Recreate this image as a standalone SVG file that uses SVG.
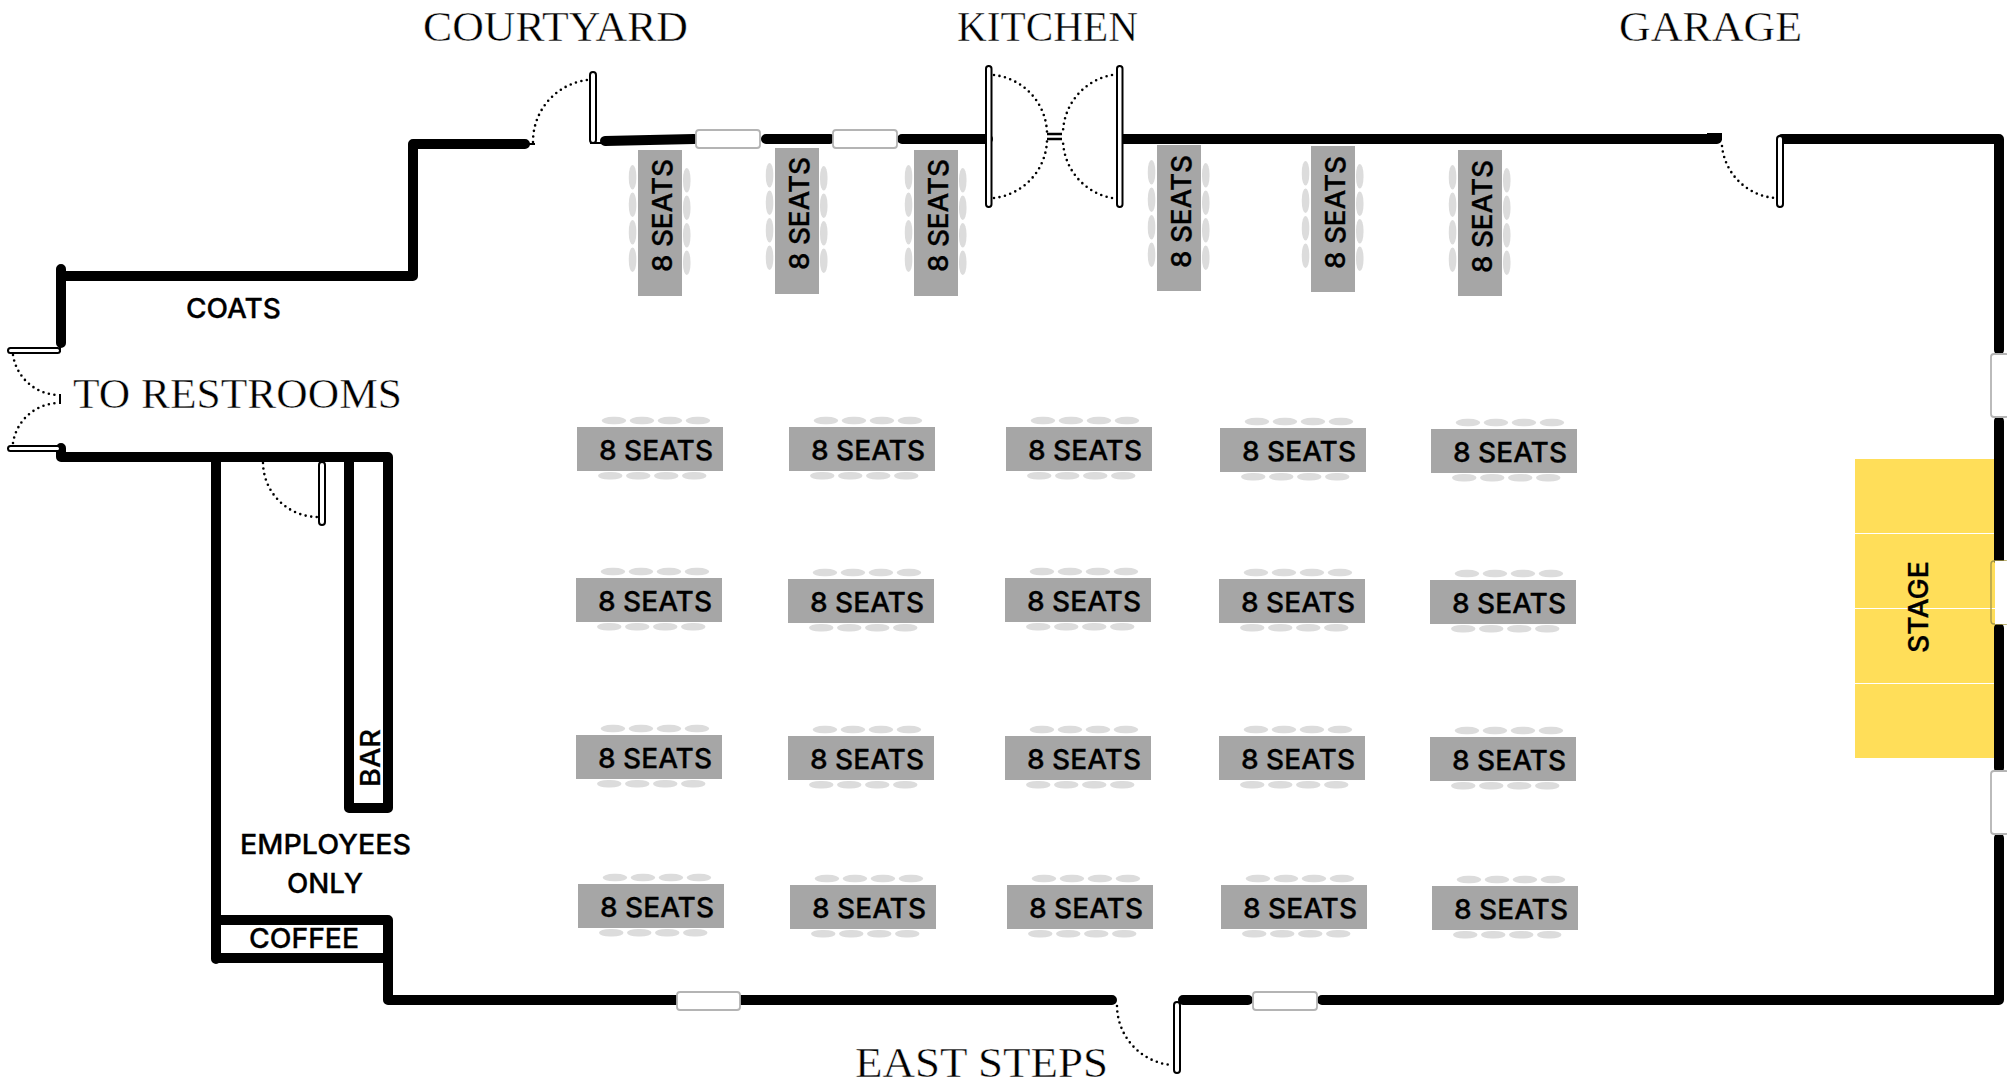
<svg xmlns="http://www.w3.org/2000/svg" width="2007" height="1087" viewBox="0 0 2007 1087">
<style>
.w{fill:none;stroke:#000;stroke-width:10;stroke-linecap:round;stroke-linejoin:round}
.win{fill:#fff;stroke:#b4b4b4;stroke-width:1.8}
.leaf{fill:#fff;stroke:#000;stroke-width:2}
.arc{fill:none;stroke:#000;stroke-width:2.6;stroke-linecap:round;stroke-dasharray:0 5.6}
.thin{fill:none;stroke:#000;stroke-width:2}
.t{fill:#a6a6a6}
.c{fill:#dcdcdc}
.s{font-family:Inter,Lato,"Liberation Sans",sans-serif;font-size:27.5px;font-weight:500;fill:#000;stroke:#000;stroke-width:.3}
.r{font-family:"Liberation Serif",serif;font-size:42px;fill:#000;stroke:#fff;stroke-width:.45}
</style>
<defs>
<g id="hc"><rect class="c" x="24.700" y="-10.200" width="24.500" height="7.500" rx="11" ry="3.700"/><rect class="c" x="52.700" y="-10.200" width="24.500" height="7.500" rx="11" ry="3.700"/><rect class="c" x="80.700" y="-10.200" width="24.500" height="7.500" rx="11" ry="3.700"/><rect class="c" x="108.700" y="-10.200" width="24.500" height="7.500" rx="11" ry="3.700"/><rect class="c" x="21" y="45" width="24.500" height="7.500" rx="11" ry="3.700"/><rect class="c" x="49" y="45" width="24.500" height="7.500" rx="11" ry="3.700"/><rect class="c" x="77" y="45" width="24.500" height="7.500" rx="11" ry="3.700"/><rect class="c" x="105" y="45" width="24.500" height="7.500" rx="11" ry="3.700"/></g>
<g id="vc"><rect class="c" x="-9.200" y="15" width="7.500" height="24.500" rx="3.700" ry="11"/><rect class="c" x="-9.200" y="42.500" width="7.500" height="24.500" rx="3.700" ry="11"/><rect class="c" x="-9.200" y="70" width="7.500" height="24.500" rx="3.700" ry="11"/><rect class="c" x="-9.200" y="97.500" width="7.500" height="24.500" rx="3.700" ry="11"/><rect class="c" x="45" y="18" width="7.500" height="24.500" rx="3.700" ry="11"/><rect class="c" x="45" y="45.500" width="7.500" height="24.500" rx="3.700" ry="11"/><rect class="c" x="45" y="73" width="7.500" height="24.500" rx="3.700" ry="11"/><rect class="c" x="45" y="100.500" width="7.500" height="24.500" rx="3.700" ry="11"/></g>
</defs>
<rect width="2007" height="1087" fill="#fff"/>

<g id="stage">
<rect x="1855" y="459" width="140" height="299" fill="#ffde59"/>
<path d="M1855 533.500H1995M1855 608.500H1995M1855 683.500H1995" stroke="#fff" stroke-width="1.200" fill="none"/>
<text class="s" transform="translate(1928 653) rotate(-90)" textLength="92" lengthAdjust="spacingAndGlyphs">STAGE</text>
</g>

<g id="connectors">
<g id="walls">
<path class="w" d="M61 269V343M61 276H413V144H525"/>
<path class="w" d="M605 141L694 139M766 139H830M902 139H988M1122 139H1717"/>
<path class="w" d="M1782 139H1999V350M1999 421V560M1999 628V768M1999 838V1000H1322M1248 1000H1183M1112 1000H673"/>
<path class="w" d="M61 448V457H388V808H349V457M216 457V959M216 920H388M216 958H388M388 920V1000H673"/>
<rect x="1707" y="133" width="15" height="7" fill="#000"/>
</g>
<g id="windows">
<rect class="win" x="696" y="130" width="64" height="18" rx="3"/>
<rect class="win" x="833" y="130" width="64" height="18" rx="3"/>
<rect class="win" x="677" y="992" width="63" height="18" rx="3"/>
<rect class="win" x="1253" y="992" width="64" height="18" rx="3"/>
<rect class="win" x="1991" y="354" width="18" height="63" rx="3"/>
<rect x="1991" y="561" width="18" height="63" rx="3" fill="none" stroke="#a89a4a" stroke-width="1.400"/>
<rect x="1995" y="561" width="14" height="63" fill="#fff"/>
<rect class="win" x="1991" y="771" width="18" height="63" rx="3"/>
</g>
<g id="doors">
<rect class="leaf" x="590" y="72" width="6" height="71" rx="3"/>
<rect class="leaf" x="986" y="66" width="5.500" height="141" rx="2.700"/>
<rect class="leaf" x="1117" y="66" width="5.500" height="141" rx="2.700"/>
<rect class="leaf" x="1777" y="136" width="6" height="71" rx="3"/>
<rect class="leaf" x="1174" y="1002" width="6" height="71" rx="3"/>
<rect class="leaf" x="319" y="462" width="6" height="63" rx="3"/>
<rect class="leaf" x="8" y="348" width="52" height="5" rx="2.500"/>
<rect class="leaf" x="8" y="446" width="52" height="5" rx="2.500"/>
<path class="thin" d="M525 144H535M590 143H606M60 344V352M60 394V404"/>
<path d="M1047 134H1062M1047 139H1062" fill="none" stroke="#000" stroke-width="2.600"/>
<path class="arc" d="M533 142A62 62 0 0 1 587 80"/>
<path class="arc" d="M994 75A60 60 0 0 1 1047 132"/>
<path class="arc" d="M994 198A60 60 0 0 0 1047 141"/>
<path class="arc" d="M1112 75A60 60 0 0 0 1063 132"/>
<path class="arc" d="M1112 198A60 60 0 0 1 1063 141"/>
<path class="arc" d="M1722 146A58 58 0 0 0 1775 198"/>
<path class="arc" d="M1117 1006A60 60 0 0 0 1171 1065"/>
<path class="arc" d="M263 463A55 55 0 0 0 317 517"/>
<path class="arc" d="M13 355A47 47 0 0 0 58 395"/>
<path class="arc" d="M13 443A47 47 0 0 1 58 403"/>
</g>
</g>

<g id="labels">
<text class="r" x="423" y="41" textLength="265" lengthAdjust="spacingAndGlyphs">COURTYARD</text>
<text class="r" x="957" y="41" textLength="181" lengthAdjust="spacingAndGlyphs">KITCHEN</text>
<text class="r" x="1619" y="41" textLength="183" lengthAdjust="spacingAndGlyphs">GARAGE</text>
<text class="r" x="73" y="408" textLength="329" lengthAdjust="spacingAndGlyphs">TO RESTROOMS</text>
<text class="r" x="855" y="1077" textLength="253" lengthAdjust="spacingAndGlyphs">EAST STEPS</text>
<text class="s" x="186" y="318" textLength="95" lengthAdjust="spacingAndGlyphs">COATS</text>
<text class="s" x="240" y="854" textLength="171" lengthAdjust="spacingAndGlyphs">EMPLOYEES</text>
<text class="s" x="287" y="893" textLength="76" lengthAdjust="spacingAndGlyphs">ONLY</text>
<text class="s" x="249" y="948" textLength="110" lengthAdjust="spacingAndGlyphs">COFFEE</text>
<text class="s" transform="translate(380 787) rotate(-90)" textLength="58" lengthAdjust="spacingAndGlyphs">BAR</text>
</g>

<g id="tv1" transform="translate(638 150)"><rect class="t" width="44" height="146"/><use href="#vc"/><text class="s" transform="translate(34 122) rotate(-90)" textLength="113" lengthAdjust="spacingAndGlyphs">8 SEATS</text></g>
<g id="tv2" transform="translate(775 148)"><rect class="t" width="44" height="146"/><use href="#vc"/><text class="s" transform="translate(34 122) rotate(-90)" textLength="113" lengthAdjust="spacingAndGlyphs">8 SEATS</text></g>
<g id="tv3" transform="translate(914 150)"><rect class="t" width="44" height="146"/><use href="#vc"/><text class="s" transform="translate(34 122) rotate(-90)" textLength="113" lengthAdjust="spacingAndGlyphs">8 SEATS</text></g>
<g id="tv4" transform="translate(1157 145)"><rect class="t" width="44" height="146"/><use href="#vc"/><text class="s" transform="translate(34 123) rotate(-90)" textLength="113" lengthAdjust="spacingAndGlyphs">8 SEATS</text></g>
<g id="tv5" transform="translate(1311 146)"><rect class="t" width="44" height="146"/><use href="#vc"/><text class="s" transform="translate(34 123) rotate(-90)" textLength="113" lengthAdjust="spacingAndGlyphs">8 SEATS</text></g>
<g id="tv6" transform="translate(1458 150)"><rect class="t" width="44" height="146"/><use href="#vc"/><text class="s" transform="translate(34 123) rotate(-90)" textLength="113" lengthAdjust="spacingAndGlyphs">8 SEATS</text></g>

<g id="t11" transform="translate(577 427)"><rect class="t" width="146" height="44"/><use href="#hc"/><text class="s" x="22" y="32.500" textLength="114" lengthAdjust="spacingAndGlyphs">8 SEATS</text></g>
<g id="t12" transform="translate(789 427)"><rect class="t" width="146" height="44"/><use href="#hc"/><text class="s" x="22" y="32.500" textLength="114" lengthAdjust="spacingAndGlyphs">8 SEATS</text></g>
<g id="t13" transform="translate(1006 427)"><rect class="t" width="146" height="44"/><use href="#hc"/><text class="s" x="22" y="32.500" textLength="114" lengthAdjust="spacingAndGlyphs">8 SEATS</text></g>
<g id="t14" transform="translate(1220 428)"><rect class="t" width="146" height="44"/><use href="#hc"/><text class="s" x="22" y="32.500" textLength="114" lengthAdjust="spacingAndGlyphs">8 SEATS</text></g>
<g id="t15" transform="translate(1431 429)"><rect class="t" width="146" height="44"/><use href="#hc"/><text class="s" x="22" y="32.500" textLength="114" lengthAdjust="spacingAndGlyphs">8 SEATS</text></g>

<g id="t21" transform="translate(576 578)"><rect class="t" width="146" height="44"/><use href="#hc"/><text class="s" x="22" y="32.500" textLength="114" lengthAdjust="spacingAndGlyphs">8 SEATS</text></g>
<g id="t22" transform="translate(788 579)"><rect class="t" width="146" height="44"/><use href="#hc"/><text class="s" x="22" y="32.500" textLength="114" lengthAdjust="spacingAndGlyphs">8 SEATS</text></g>
<g id="t23" transform="translate(1005 578)"><rect class="t" width="146" height="44"/><use href="#hc"/><text class="s" x="22" y="32.500" textLength="114" lengthAdjust="spacingAndGlyphs">8 SEATS</text></g>
<g id="t24" transform="translate(1219 579)"><rect class="t" width="146" height="44"/><use href="#hc"/><text class="s" x="22" y="32.500" textLength="114" lengthAdjust="spacingAndGlyphs">8 SEATS</text></g>
<g id="t25" transform="translate(1430 580)"><rect class="t" width="146" height="44"/><use href="#hc"/><text class="s" x="22" y="32.500" textLength="114" lengthAdjust="spacingAndGlyphs">8 SEATS</text></g>

<g id="t31" transform="translate(576 735)"><rect class="t" width="146" height="44"/><use href="#hc"/><text class="s" x="22" y="32.500" textLength="114" lengthAdjust="spacingAndGlyphs">8 SEATS</text></g>
<g id="t32" transform="translate(788 736)"><rect class="t" width="146" height="44"/><use href="#hc"/><text class="s" x="22" y="32.500" textLength="114" lengthAdjust="spacingAndGlyphs">8 SEATS</text></g>
<g id="t33" transform="translate(1005 736)"><rect class="t" width="146" height="44"/><use href="#hc"/><text class="s" x="22" y="32.500" textLength="114" lengthAdjust="spacingAndGlyphs">8 SEATS</text></g>
<g id="t34" transform="translate(1219 736)"><rect class="t" width="146" height="44"/><use href="#hc"/><text class="s" x="22" y="32.500" textLength="114" lengthAdjust="spacingAndGlyphs">8 SEATS</text></g>
<g id="t35" transform="translate(1430 737)"><rect class="t" width="146" height="44"/><use href="#hc"/><text class="s" x="22" y="32.500" textLength="114" lengthAdjust="spacingAndGlyphs">8 SEATS</text></g>

<g id="t41" transform="translate(578 884)"><rect class="t" width="146" height="44"/><use href="#hc"/><text class="s" x="22" y="32.500" textLength="114" lengthAdjust="spacingAndGlyphs">8 SEATS</text></g>
<g id="t42" transform="translate(790 885)"><rect class="t" width="146" height="44"/><use href="#hc"/><text class="s" x="22" y="32.500" textLength="114" lengthAdjust="spacingAndGlyphs">8 SEATS</text></g>
<g id="t43" transform="translate(1007 885)"><rect class="t" width="146" height="44"/><use href="#hc"/><text class="s" x="22" y="32.500" textLength="114" lengthAdjust="spacingAndGlyphs">8 SEATS</text></g>
<g id="t44" transform="translate(1221 885)"><rect class="t" width="146" height="44"/><use href="#hc"/><text class="s" x="22" y="32.500" textLength="114" lengthAdjust="spacingAndGlyphs">8 SEATS</text></g>
<g id="t45" transform="translate(1432 886)"><rect class="t" width="146" height="44"/><use href="#hc"/><text class="s" x="22" y="32.500" textLength="114" lengthAdjust="spacingAndGlyphs">8 SEATS</text></g>
</svg>
